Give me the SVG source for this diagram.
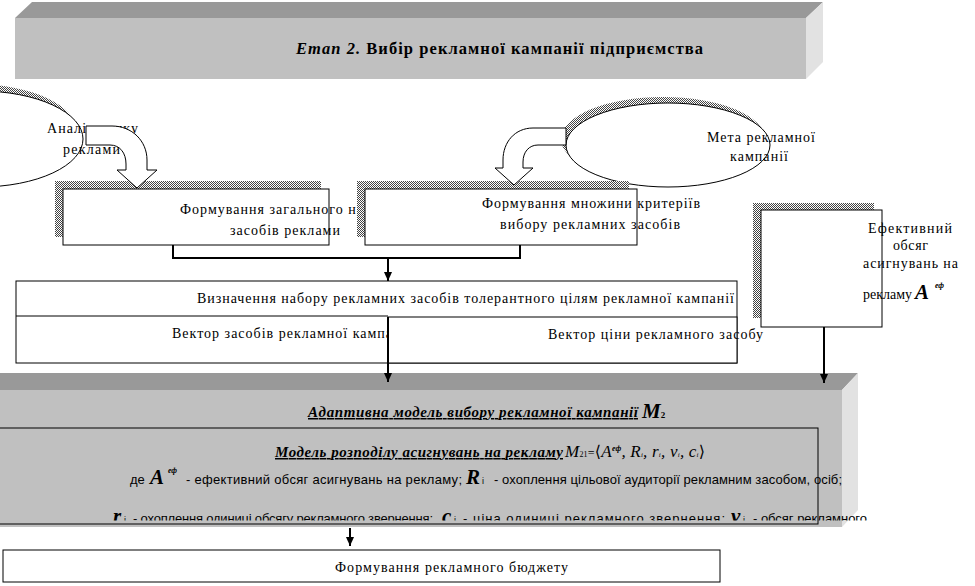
<svg xmlns="http://www.w3.org/2000/svg" width="975" height="586" viewBox="0 0 975 586">
<style>
.t{font-family:"Liberation Serif","Times New Roman","DejaVu Serif",serif;fill:#000}
.n{font-size:14px}
.s{font-family:"Liberation Sans",Arial,"DejaVu Sans",sans-serif;font-size:13px;fill:#000}
.si{font-family:"Liberation Sans",Arial,"DejaVu Sans",sans-serif;font-size:9px;fill:#000}
.bi{font-weight:bold;font-style:italic}
.big{font-size:21px}
.sup{font-size:8px}
.box{fill:#fff;stroke:#000;stroke-width:1}
.sh{fill:url(#dither);stroke:none}
.face{fill:#c0c0c0}
.top{fill:#999999}
.side{fill:#e2e2e2}
.conn{fill:none;stroke:#000;stroke-width:2}
.blk{fill:#fff;stroke:#000;stroke-width:1}
</style>
<defs>
<pattern id="dither" width="2" height="2" patternUnits="userSpaceOnUse">
<rect width="2" height="2" fill="#fff"/>
<rect width="1" height="1" fill="#444"/>
<rect x="1" y="1" width="1" height="1" fill="#444"/>
</pattern>
<marker id="ah" markerWidth="9" markerHeight="8" refX="9" refY="4" orient="auto" markerUnits="userSpaceOnUse">
<path d="M0,0 L9,4 L0,8 Z" fill="#000"/>
</marker>
<clipPath id="clipL3"><rect x="0" y="440" width="975" height="80.5"/></clipPath>
</defs>

<g id="stage-banner">
<polygon class="top" points="15,18 32,2 823,2 806,18"/>
<rect class="face" x="15" y="18" width="791" height="61"/>
<polygon class="side" points="806,18 823,2 823,62 806,79"/>
<text class="t" x="296" y="54" style="font-size:16.5px;font-weight:bold" textLength="407" lengthAdjust="spacing"><tspan font-style="italic">Етап 2.</tspan> Вибір рекламної кампанії підприємства</text>
</g>

<g id="market-analysis">
<ellipse class="sh" cx="-26" cy="132" rx="103" ry="48"/>
<ellipse class="box" cx="-20" cy="139" rx="103" ry="48"/>
<text class="t n" x="47" y="133" textLength="91" lengthAdjust="spacing">Аналіз ринку</text>
<text class="t n" x="63" y="154" textLength="57" lengthAdjust="spacing">реклами</text>
</g>

<g id="campaign-goal">
<ellipse class="sh" cx="663" cy="139" rx="102" ry="42"/>
<ellipse class="box" cx="668" cy="145" rx="102" ry="42"/>
<text class="t n" x="707" y="142" textLength="108" lengthAdjust="spacing">Мета рекламної</text>
<text class="t n" x="730" y="161" textLength="58" lengthAdjust="spacing">кампанії</text>
</g>

<g id="general-set">
<rect class="sh" x="55" y="181" width="266" height="56"/>
<rect class="box" x="63" y="189" width="266" height="56"/>
<text class="t n" x="180" y="214" textLength="215" lengthAdjust="spacing">Формування загального набору</text>
<text class="t n" x="230" y="235" textLength="110" lengthAdjust="spacing">засобів реклами</text>
</g>

<g id="criteria-set">
<rect class="sh" x="357" y="181" width="272" height="56"/>
<rect class="box" x="365" y="189" width="272" height="56"/>
<text class="t n" x="482" y="208" textLength="218" lengthAdjust="spacing">Формування множини критеріїв</text>
<text class="t n" x="500" y="229" textLength="180" lengthAdjust="spacing">вибору рекламних засобів</text>
</g>

<g id="effective-budget">
<rect class="sh" x="753" y="203" width="121" height="115"/>
<rect class="box" x="761" y="210" width="121" height="117"/>
<text class="t n" x="868" y="233" textLength="84" lengthAdjust="spacing">Ефективний</text>
<text class="t n" x="893" y="250" textLength="35" lengthAdjust="spacing">обсяг</text>
<text class="t n" x="863" y="268" textLength="95" lengthAdjust="spacing">асигнувань на</text>
<text class="t n" x="863" y="299" textLength="49" lengthAdjust="spacing">рекламу</text>
<text class="t bi big" x="915" y="299">A</text>
<text class="t bi sup" x="935" y="288">еф</text>
</g>

<g id="tolerant-set">
<rect class="box" x="16" y="281" width="721" height="82"/>
<line x1="16" y1="316" x2="388" y2="316" stroke="#000" stroke-width="1"/>
<text class="t n" x="197" y="303" textLength="537" lengthAdjust="spacing">Визначення набору рекламних засобів толерантного цілям рекламної кампанії</text>
<text class="t n" x="172" y="338" style="letter-spacing:1px">Вектор засобів рекламної кампанії</text>
<rect class="box" x="388" y="317" width="349" height="46"/>
<text class="t n" x="548" y="339" textLength="215" lengthAdjust="spacing">Вектор ціни рекламного засобу</text>
</g>

<g id="adaptive-model">
<polygon class="top" points="-20,390 -3,373 858,373 842,390"/>
<rect class="face" x="-20" y="390" width="862" height="137"/>
<polygon class="side" points="842,390 858,373 858,510 842,527"/>
<text class="t bi" x="308" y="417" style="font-size:15px" text-decoration="underline" textLength="330" lengthAdjust="spacing">Адаптивна модель вибору рекламної кампанії </text>
<text class="t bi big" x="642" y="418">M<tspan font-size="9" font-style="normal">2</tspan></text>
<rect x="-5" y="428" width="823" height="96" fill="none" stroke="#000" stroke-width="1"/>
<text class="t bi" x="275" y="457" style="font-size:15px" text-decoration="underline" textLength="288" lengthAdjust="spacing">Модель розподілу асигнувань на рекламу </text>
<text class="t" x="565" y="457" style="font-size:17px;font-style:italic" textLength="140" lengthAdjust="spacing">M<tspan font-size="8" font-style="normal">21</tspan><tspan font-style="normal" font-size="12">=</tspan><tspan font-style="normal" font-family="DejaVu Serif" font-size="16">⟨</tspan>A<tspan font-size="8" font-weight="bold" dy="-6">еф</tspan><tspan dy="6">, R</tspan><tspan font-size="7">i</tspan>, r<tspan font-size="7">i</tspan>, v<tspan font-size="7">i</tspan>, c<tspan font-size="7">i</tspan><tspan font-style="normal" font-family="DejaVu Serif" font-size="16">⟩</tspan></text>
<text class="s" x="130" y="484">де</text>
<text class="t bi big" x="150" y="484">A</text>
<text class="t bi sup" x="168" y="473">еф</text>
<text class="s" x="186" y="484" textLength="276" lengthAdjust="spacing">- ефективний обсяг асигнувань на рекламу;</text>
<text class="t bi big" x="466" y="484">R</text>
<text class="si" x="482" y="484">i</text>
<text class="s" x="494" y="484" textLength="348" lengthAdjust="spacing">- охоплення цільової аудиторії рекламним засобом, осіб;</text>
<g clip-path="url(#clipL3)">
<text class="t bi big" x="113" y="523">r</text>
<text class="si" x="124" y="523">i</text>
<text class="s" x="133" y="523" textLength="300" lengthAdjust="spacing">- охоплення одиниці обсягу рекламного звернення;</text>
<text class="t bi big" x="442" y="523">c</text>
<text class="si" x="454" y="523">i</text>
<text class="s" x="463" y="523" textLength="262" lengthAdjust="spacing">- ціна  одиниці рекламного звернення;</text>
<text class="t bi big" x="731" y="523">v</text>
<text class="si" x="743" y="523">i</text>
<text class="s" x="753" y="523" textLength="114" lengthAdjust="spacing">- обсяг рекламного</text>
</g>
</g>

<g id="budget-formation">
<rect class="box" x="3" y="550" width="717" height="32"/>
<text class="t n" x="335" y="572" textLength="233" lengthAdjust="spacing">Формування рекламного бюджету</text>
</g>

<g id="connectors">
<path class="blk" d="M86,126 L112,126 C132,126 147,141 147,160 L147,170 L157,170 L137,188 L117,170 L126,170 L126,164 C126,153 120,145 110,145 L86,145 Z"/>
<path class="blk" d="M566,128 L533,128 C515,128 503,142 503,160 L503,168 L495,168 L514,185 L533,168 L523,168 L523,162 C523,152 529,145 538,145 L566,145 Z"/>
<polyline class="conn" points="173,245 173,258 520,258 520,245"/>
<line class="conn" x1="388" y1="258" x2="388" y2="281" marker-end="url(#ah)"/>
<line class="conn" x1="388" y1="317" x2="388" y2="382" marker-end="url(#ah)"/>
<line class="conn" x1="824" y1="327" x2="824" y2="383" marker-end="url(#ah)"/>
<line class="conn" x1="350" y1="528" x2="350" y2="546" marker-end="url(#ah)"/>
</g>
</svg>
